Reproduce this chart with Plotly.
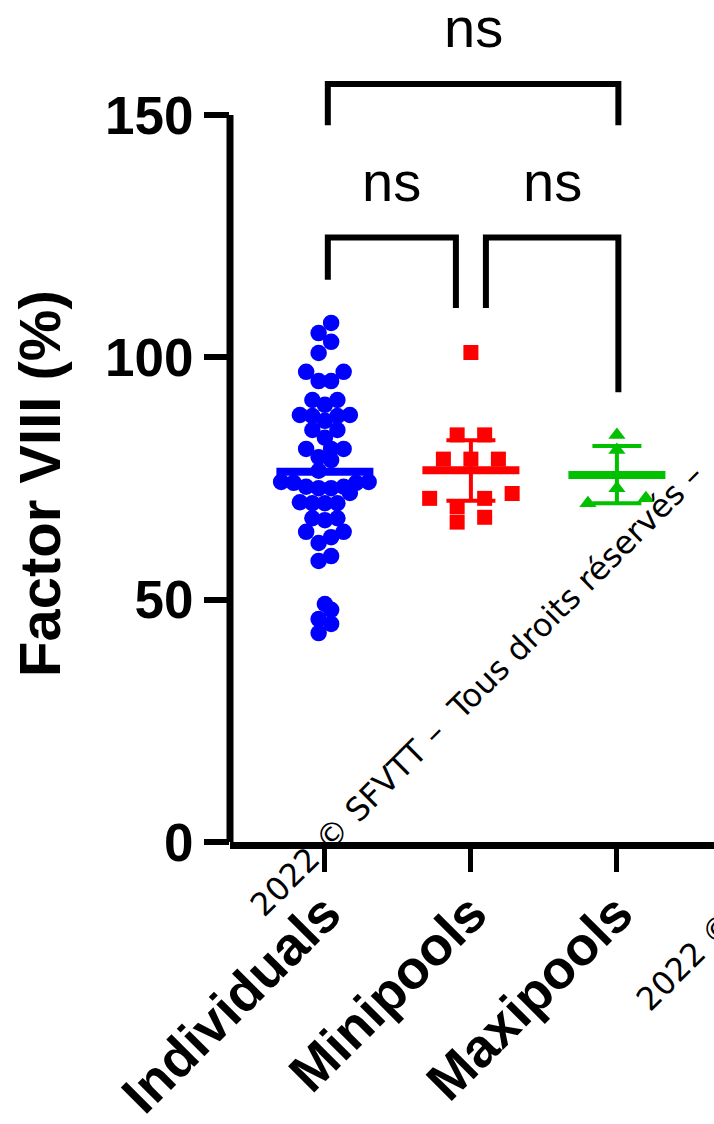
import plotly.graph_objects as go

# ---- data -----------------------------------------------------------------
categories = ["Individuals", "Minipools", "Maxipools"]

individuals = [107.1, 105.0, 103.2, 100.9, 97.0, 97.0, 95.1, 95.1, 91.2, 91.2,
               90.2, 87.9, 88.1, 87.9, 88.1, 86.9, 85.0, 85.0, 83.4, 81.1,
               81.1, 81.1, 79.4, 78.8, 76.6, 74.1, 74.1, 73.3, 73.3, 74.3,
               74.3, 73.0, 73.0, 72.0, 69.9, 69.9, 70.1, 69.9, 66.8, 66.4,
               66.8, 64.0, 64.0, 62.9, 61.7, 59.0, 58.0, 49.1, 47.9, 46.0,
               45.0, 43.1]
minipools = [101.0, 84.0, 84.0, 79.0, 79.0, 79.0, 71.9, 69.2, 70.9, 70.9, 66.0, 67.0]
maxipools = [84.0, 80.9, 73.0, 69.9, 70.9]

group_center = [76.4, 76.7, 75.7]          # horizontal summary line
whisker_low = [None, 70.4, 69.9]
whisker_high = [None, 82.9, 81.7]

y_ticks = [0, 50, 100, 150]

# pairwise comparisons (group a, group b, label)
comp_a = [0, 1, 0]
comp_b = [1, 2, 2]
comp_label = ["ns", "ns", "ns"]
bracket_top = [124.7, 124.7, 156.4]
bracket_leg_a = [116.0, 110.2, 147.9]
bracket_leg_b = [110.2, 92.8, 147.9]

# ---- geometry -------------------------------------------------------------
W, H = 714, 1124
ML, MR, MT, MB = 230, 0, 0, 282
PLOT_W = W - ML - MR
PLOT_H = H - MT - MB
Y_MAX = 150 * PLOT_H / 727.0
X_RANGE = [-0.65, 2.665]
PX_PER_CAT = PLOT_W / (X_RANGE[1] - X_RANGE[0])
PX_PER_UNIT = PLOT_H / Y_MAX

FONT = "Liberation Sans, Arial, Helvetica, sans-serif"
COLORS = ["#0000ff", "#ff0000", "#00c000"]
SYMBOLS = ["circle", "square", "triangle-up"]
SIZES = [16.5, 15, 15]
ROW_H = [2.5, 3.0, 3.0]       # value span sharing one row of the scatter
SPACING = [12.5, 27.5, 58]    # horizontal spacing inside a row, in px


def swarm_offsets(vals, row_h, spacing):
    """Column-scatter layout: points falling in the same value row are spread
    symmetrically around the group centre."""
    order = sorted(range(len(vals)), key=lambda i: vals[i])
    offsets = [0.0] * len(vals)
    i = 0
    while i < len(order):
        start = vals[order[i]]
        row = []
        while i < len(order) and vals[order[i]] <= start + row_h:
            row.append(order[i])
            i += 1
        n = len(row)
        slots = sorted([(k - (n - 1) / 2) * spacing for k in range(n)],
                       key=lambda s: (abs(s), s))
        for j, s in zip(row, slots):
            offsets[j] = s
    return offsets


fig = go.Figure()

groups = [individuals, minipools, maxipools]
for g, vals in enumerate(groups):
    offs = swarm_offsets(vals, ROW_H[g], SPACING[g])
    fig.add_trace(go.Scatter(
        x=[g + o / PX_PER_CAT for o in offs], y=vals, mode="markers",
        marker=dict(symbol=SYMBOLS[g], size=SIZES[g], color=COLORS[g],
                    line=dict(width=0)),
        cliponaxis=False, showlegend=False, hoverinfo="y"))

# summary line and whiskers
HALF_MEAN = 48.5 / PX_PER_CAT
HALF_CAP = 24.5 / PX_PER_CAT
for g in range(3):
    c = COLORS[g]
    if whisker_low[g] is not None:
        fig.add_trace(go.Scatter(x=[g, g], y=[whisker_low[g], whisker_high[g]],
                                 mode="lines", line=dict(color=c, width=4),
                                 showlegend=False, hoverinfo="skip"))
        for yv in (whisker_low[g], whisker_high[g]):
            fig.add_trace(go.Scatter(x=[g - HALF_CAP, g + HALF_CAP], y=[yv, yv],
                                     mode="lines", line=dict(color=c, width=4),
                                     showlegend=False, hoverinfo="skip"))
    fig.add_trace(go.Scatter(x=[g - HALF_MEAN, g + HALF_MEAN],
                             y=[group_center[g], group_center[g]],
                             mode="lines", line=dict(color=c, width=8),
                             showlegend=False, hoverinfo="skip"))

# significance brackets
GAP = 15 / PX_PER_CAT
shapes = []
annotations = []
for k in range(len(comp_a)):
    a, b = comp_a[k], comp_b[k]
    xa = a + (GAP if a == 1 else 0.02)
    xb = b - (GAP if b == 1 else -0.01)
    path = (f"M {xa},{bracket_leg_a[k]} L {xa},{bracket_top[k]} "
            f"L {xb},{bracket_top[k]} L {xb},{bracket_leg_b[k]}")
    shapes.append(dict(type="path", path=path, xref="x", yref="y",
                       line=dict(color="black", width=6)))
    annotations.append(dict(x=(xa + xb) / 2, y=bracket_top[k] + 11.6,
                            xref="x", yref="y", text=comp_label[k],
                            showarrow=False, xanchor="center", yanchor="middle",
                            font=dict(family=FONT, size=56, color="black")))

# y axis line, limited to the ticked range
shapes.append(dict(type="line", xref="paper", yref="y", x0=0, x1=0,
                   y0=0, y1=150, line=dict(color="black", width=7)))

# y axis title
annotations.append(dict(x=(39 - ML) / PLOT_W, y=(PLOT_H - 484 + MT) / PX_PER_UNIT,
                        xref="paper", yref="y", text="Factor VIII (%)",
                        textangle=-90, showarrow=False, xanchor="center",
                        yanchor="middle",
                        font=dict(family=FONT, size=58, color="black",
                                  weight="bold")))

# copyright watermark
WM_LINES = ["2022 \u00a9 SFVTT \u2013  Tous droits r\u00e9serv\u00e9s \u2013",
            "2022 \u00a9"]
WM_POS = [(240, 927), (626, 1021)]
for text, (left_px, bottom_px) in zip(WM_LINES, WM_POS):
    annotations.append(dict(x=(left_px - ML) / PLOT_W,
                            y=(PLOT_H + MT - bottom_px) / PLOT_H,
                            xref="paper", yref="paper", text=text, textangle=-45,
                            showarrow=False, xanchor="left", yanchor="bottom",
                            font=dict(family="DejaVu Sans", size=32,
                                      color="black")))

fig.update_layout(
    width=W, height=H,
    margin=dict(l=ML, r=MR, t=MT, b=MB, pad=0, autoexpand=False),
    paper_bgcolor="white", plot_bgcolor="white",
    showlegend=False,
    shapes=shapes, annotations=annotations,
    xaxis=dict(range=X_RANGE, tickvals=[0, 1, 2], ticktext=categories,
               tickangle=-45, showgrid=False, zeroline=False, automargin=False,
               showline=True, linecolor="black", linewidth=7,
               ticks="outside", ticklen=23, tickwidth=5, tickcolor="black",
               ticklabelstandoff=-12,
               tickfont=dict(family=FONT, size=54, color="black", weight="bold")),
    yaxis=dict(range=[0, Y_MAX], tickvals=y_ticks, automargin=False,
               ticktext=[str(v) for v in y_ticks],
               showgrid=False, zeroline=False, showline=False,
               ticks="outside", ticklen=25, tickwidth=6, tickcolor="black",
               tickfont=dict(family=FONT, size=53, color="black", weight="bold")),
)

fig.write_html("out.html")
